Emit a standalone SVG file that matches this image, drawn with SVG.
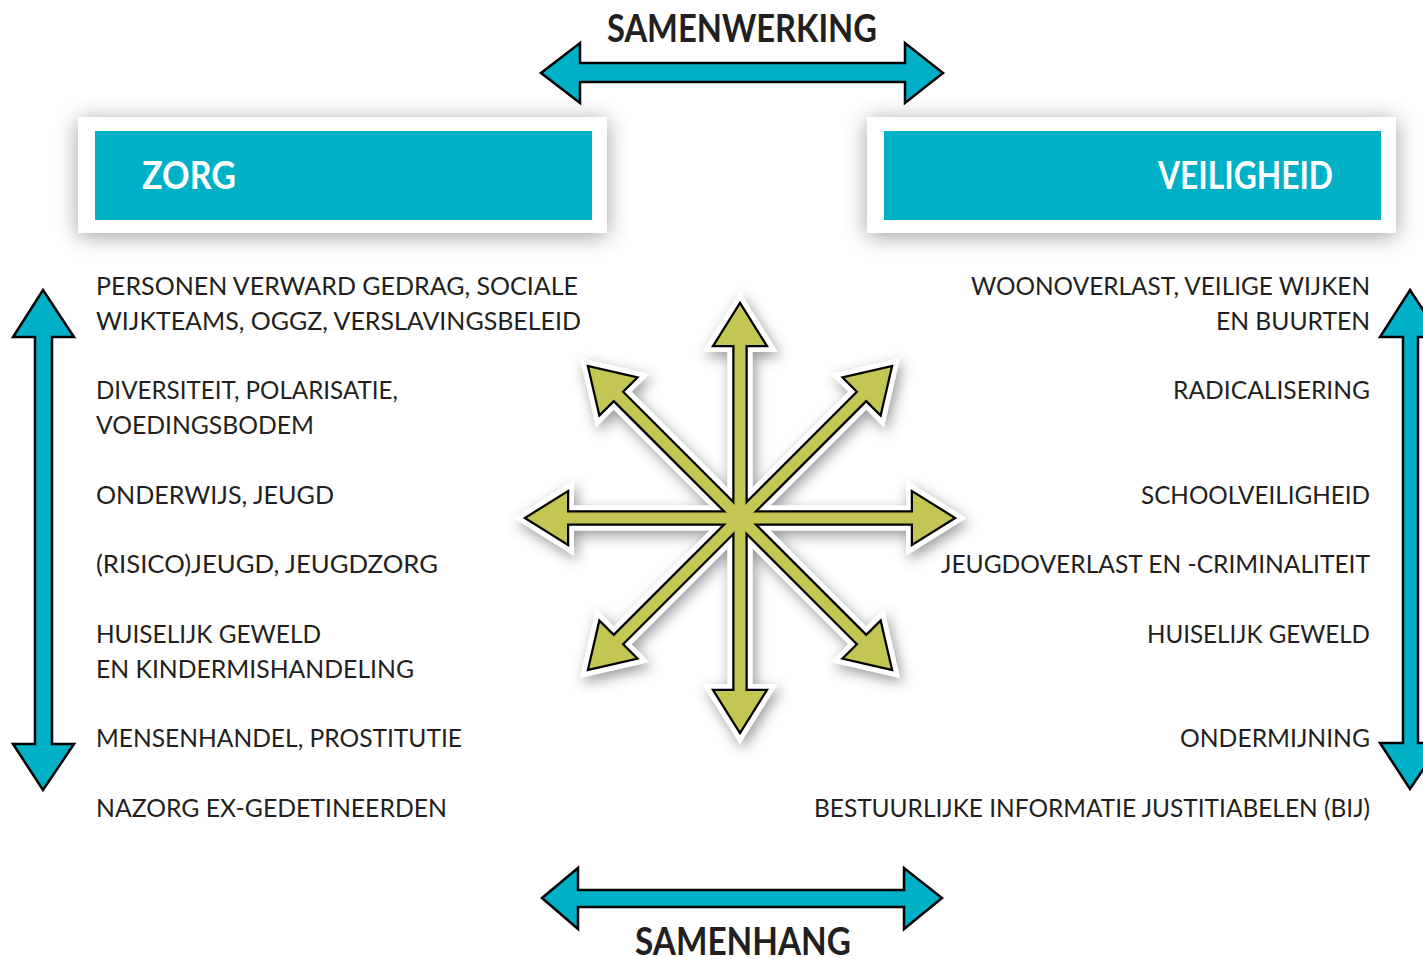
<svg xmlns="http://www.w3.org/2000/svg" xmlns:xlink="http://www.w3.org/1999/xlink" width="1423" height="959" viewBox="0 0 1423 959">
<style>
.t{font-family:Lato,"Liberation Sans",sans-serif;font-size:25.5px;fill:#231f20}
.r{text-anchor:end}
.h{font-family:Lato,"Liberation Sans",sans-serif;font-weight:700;font-size:38px;fill:#231f20}
.w{font-family:Lato,"Liberation Sans",sans-serif;font-weight:700;font-size:38px;fill:#ffffff}
.cy{fill:#00b0c7;stroke:#000;stroke-width:2.5;stroke-linejoin:miter}
.bw{fill:#fff;filter:url(#bs)}
.bc{fill:#00b0c7}
</style>
<defs>
<filter id="bs" x="-20%" y="-60%" width="140%" height="220%">
<feDropShadow dx="0" dy="3" stdDeviation="11" flood-color="#000" flood-opacity="0.38"/>
</filter>
<filter id="ss" x="-30%" y="-30%" width="160%" height="160%">
<feDropShadow dx="3" dy="5" stdDeviation="7" flood-color="#000" flood-opacity="0.4"/>
</filter>
<path id="arm" d="M0,-213 L25,-173 L5.5,-173 L5.5,173 L25,173 L0,213 L-25,173 L-5.5,173 L-5.5,-173 L-25,-173 Z"/>
</defs>
<rect width="1423" height="959" fill="#fff"/>

<g id="zorg">
<rect class="bw" x="78" y="117" width="529" height="116"/>
<rect class="bc" x="95" y="131" width="497" height="89"/>
<text class="w" x="142" y="189" textLength="94" lengthAdjust="spacingAndGlyphs">ZORG</text>
</g>

<g id="veiligheid">
<rect class="bw" x="867" y="117" width="529" height="116"/>
<rect class="bc" x="884" y="131" width="497" height="89"/>
<text class="w" x="1158" y="189" textLength="175" lengthAdjust="spacingAndGlyphs">VEILIGHEID</text>
</g>

<g id="samenwerking">
<text class="h" x="607" y="42" textLength="270" lengthAdjust="spacingAndGlyphs">SAMENWERKING</text>
</g>
<g id="samenhang">
<text class="h" x="635" y="955" textLength="216" lengthAdjust="spacingAndGlyphs">SAMENHANG</text>
</g>

<g id="zorg-items">
<text class="t" x="96" y="295" textLength="482" lengthAdjust="spacingAndGlyphs">PERSONEN VERWARD GEDRAG, SOCIALE</text>
<text class="t" x="96" y="330" textLength="485" lengthAdjust="spacingAndGlyphs">WIJKTEAMS, OGGZ, VERSLAVINGSBELEID</text>
<text class="t" x="96" y="399" textLength="302" lengthAdjust="spacingAndGlyphs">DIVERSITEIT, POLARISATIE,</text>
<text class="t" x="96" y="434" textLength="218" lengthAdjust="spacingAndGlyphs">VOEDINGSBODEM</text>
<text class="t" x="96" y="504" textLength="238" lengthAdjust="spacingAndGlyphs">ONDERWIJS, JEUGD</text>
<text class="t" x="96" y="573" textLength="342" lengthAdjust="spacingAndGlyphs">(RISICO)JEUGD, JEUGDZORG</text>
<text class="t" x="96" y="643" textLength="225" lengthAdjust="spacingAndGlyphs">HUISELIJK GEWELD</text>
<text class="t" x="96" y="678" textLength="318" lengthAdjust="spacingAndGlyphs">EN KINDERMISHANDELING</text>
<text class="t" x="96" y="747" textLength="366" lengthAdjust="spacingAndGlyphs">MENSENHANDEL, PROSTITUTIE</text>
<text class="t" x="96" y="817" textLength="351" lengthAdjust="spacingAndGlyphs">NAZORG EX-GEDETINEERDEN</text>
</g>

<g id="veiligheid-items">
<text class="t r" x="1370" y="295" textLength="399" lengthAdjust="spacingAndGlyphs">WOONOVERLAST, VEILIGE WIJKEN</text>
<text class="t r" x="1370" y="330" textLength="154" lengthAdjust="spacingAndGlyphs">EN BUURTEN</text>
<text class="t r" x="1370" y="399" textLength="197" lengthAdjust="spacingAndGlyphs">RADICALISERING</text>
<text class="t r" x="1370" y="504" textLength="229" lengthAdjust="spacingAndGlyphs">SCHOOLVEILIGHEID</text>
<text class="t r" x="1370" y="573" textLength="429" lengthAdjust="spacingAndGlyphs">JEUGDOVERLAST EN -CRIMINALITEIT</text>
<text class="t r" x="1370" y="643" textLength="223" lengthAdjust="spacingAndGlyphs">HUISELIJK GEWELD</text>
<text class="t r" x="1370" y="747" textLength="190" lengthAdjust="spacingAndGlyphs">ONDERMIJNING</text>
<text class="t r" x="1370" y="817" textLength="556" lengthAdjust="spacingAndGlyphs">BESTUURLIJKE INFORMATIE JUSTITIABELEN (BIJ)</text>
</g>

<g id="connectors">
<polygon class="cy" points="541,73 580,43 580,63 905,63 905,43 943,73 905,103 905,82 580,82 580,103"/>
<polygon class="cy" points="542,898 578,868 578,890 904,890 904,868 942,898 904,929 904,907 578,907 578,929"/>
<polygon class="cy" points="43,290 74,337 52,337 52,744 74,744 43,790 13,744 35,744 35,337 13,337"/>
<polygon class="cy" points="1410,290 1441,337 1418,337 1418,743 1441,743 1410,789 1380,743 1403,743 1403,337 1380,337"/>
</g>

<g id="star" transform="translate(740,518)">
<g filter="url(#ss)" fill="#fff" stroke="#fff" stroke-width="14" stroke-linejoin="miter">
<use xlink:href="#arm"/>
<use xlink:href="#arm" transform="rotate(45)"/>
<use xlink:href="#arm" transform="rotate(90)"/>
<use xlink:href="#arm" transform="rotate(135)"/>
</g>
<g fill="#000" stroke="#000" stroke-width="4.5" stroke-linejoin="miter">
<use xlink:href="#arm"/>
<use xlink:href="#arm" transform="rotate(45)"/>
<use xlink:href="#arm" transform="rotate(90)"/>
<use xlink:href="#arm" transform="rotate(135)"/>
</g>
<g fill="#c4c653">
<use xlink:href="#arm"/>
<use xlink:href="#arm" transform="rotate(45)"/>
<use xlink:href="#arm" transform="rotate(90)"/>
<use xlink:href="#arm" transform="rotate(135)"/>
</g>
</g>
</svg>
